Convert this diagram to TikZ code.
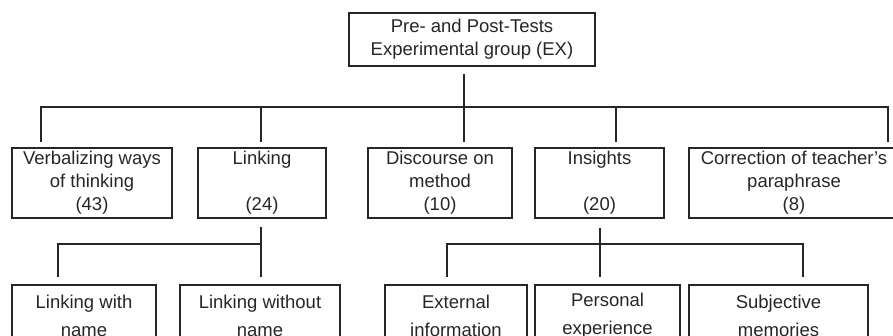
\documentclass[tikz,border=0pt]{standalone}
\usepackage{fontspec}
\setmainfont{Liberation Sans}
\definecolor{ink}{HTML}{262626}
\begin{document}
\begin{tikzpicture}[x=1pt,y=-1pt,
  box/.style={draw=ink,line width=1.5pt,inner sep=0pt,align=center,text=ink,
    font=\fontsize{18.5}{23}\selectfont},
  lowbox/.style={box,font=\fontsize{18.5}{28}\selectfont,minimum height=62pt},
  conn/.style={draw=ink,line width=1.4pt}]
\useasboundingbox (0,0) rectangle (893,335);
\clip (0,0) rectangle (893,335);
% top
\node[box,minimum width=246pt,minimum height=53pt] (top) at (472,39.5)
  {Pre- and Post-Tests\\Experimental group (EX)};
% first row
\node[box,minimum width=160pt,minimum height=70pt] (verb) at (92,183)
  {Verbalizing ways\\of thinking\\(43)};
\node[box,minimum width=128pt,minimum height=70pt] (link) at (262,183)
  {Linking\\\mbox{}\\(24)};
\node[box,minimum width=144pt,minimum height=70pt] (disc) at (440,183)
  {Discourse on\\method\\(10)};
\node[box,minimum width=129pt,minimum height=70pt] (ins) at (599.5,183)
  {Insights\\\mbox{}\\(20)};
\node[box,minimum width=210pt,minimum height=70pt] (corr) at (794,183)
  {Correction of teacher's\\paraphrase\\(8)};
% second row
\node[lowbox,minimum width=144pt] (lwn) at (84,316) {Linking with\\name};
\node[lowbox,minimum width=160pt] (lwo) at (260,316) {Linking without\\name};
\node[lowbox,minimum width=142pt] (ext) at (456,316) {External\\information};
\node[lowbox,minimum width=145pt] (pers) at (607.5,316) {Personal\\experience};
\node[lowbox,minimum width=179pt] (subj) at (778.5,316) {Subjective\\memories};
% bus 1
\coordinate (t0) at (464,74);
\coordinate (t1) at (464,142);
\coordinate (h1L) at (41,107);
\coordinate (h1R) at (888,107);
\coordinate (d1a) at (41,142);
\coordinate (d1b) at (261,142);
\coordinate (d1c) at (616,142);
\coordinate (d1d) at (888,142);
\draw[conn] (t0) -- (t1);
\draw[conn] (d1a) -- (h1L) -- (h1R) -- (d1d);
\draw[conn] (d1b) -- (d1b |- h1L);
\draw[conn] (d1c) -- (d1c |- h1L);
% bus 2 (Linking)
\coordinate (l0) at (261,227);
\coordinate (l1) at (261,277);
\coordinate (lh) at (58,244);
\coordinate (ld) at (58,277);
\draw[conn] (l0) -- (l1);
\draw[conn] (ld) -- (lh) -- (lh -| l0);
% bus 3 (Insights)
\coordinate (i0) at (600,228);
\coordinate (i1) at (600,277);
\coordinate (ihL) at (447,244);
\coordinate (ihR) at (803,244);
\coordinate (idL) at (447,277);
\coordinate (idR) at (803,277);
\draw[conn] (i0) -- (i1);
\draw[conn] (idL) -- (ihL) -- (ihR) -- (idR);
\end{tikzpicture}
\end{document}
